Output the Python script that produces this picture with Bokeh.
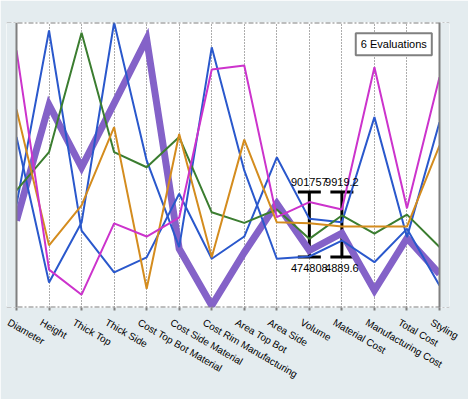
import math
from bokeh.plotting import figure
from bokeh.models import (Range1d, FixedTicker, Span, Label, LinearAxis,
                          BoxAnnotation, ColumnDataSource, Whisker, TeeHead)
from bokeh.embed import file_html
from bokeh.resources import INLINE
from bokeh.core.properties import value

# ---------------- data ----------------
axis_names = ["Diameter", "Height", "Thick Top", "Thick Side",
              "Cost Top Bot Material", "Cost Side Material",
              "Cost Rim Manufacturing", "Area Top Bot", "Area Side", "Volume",
              "Material Cost", "Manufacturing Cost", "Total Cost", "Styling"]

# normalised values (0 = bottom, 1 = top) of each evaluation on each axis
eval_purple = [0.305, 0.711, 0.492, 0.716, 0.942, 0.206, 0.007, 0.193,
               0.365, 0.200, 0.261, 0.060, 0.243, 0.118]
eval_blue_a = [0.361, 0.972, 0.270, 0.123, 0.176, 0.399, 0.171, 0.249,
               0.527, 0.311, 0.299, 0.668, 0.247, 0.650]
eval_blue_b = [0.598, 0.088, 0.298, 1.000, 0.516, 0.212, 0.913, 0.481,
               0.171, 0.179, 0.235, 0.159, 0.276, 0.077]
eval_green = [0.411, 0.545, 0.964, 0.545, 0.492, 0.598, 0.334, 0.297,
              0.344, 0.241, 0.323, 0.259, 0.326, 0.212]
eval_orange = [0.695, 0.218, 0.358, 0.633, 0.066, 0.609, 0.176, 0.589,
               0.299, 0.296, 0.284, 0.284, 0.284, 0.568]
eval_magenta = [0.902, 0.133, 0.045, 0.295, 0.249, 0.315, 0.835, 0.849,
                0.317, 0.370, 0.344, 0.843, 0.348, 0.808]

# range bars on Volume and Material Cost
bar_axes = [9, 10]
bar_upper = [0.405, 0.405]
bar_lower = [0.177, 0.177]
bar_top_text = ["901757", "9919.2"]
bar_bottom_text = ["474808", "4889.6"]

legend_text = "6 Evaluations"

BG = "#e4ecef"
GREY = "#808080"
FONT = "Liberation Sans"

n = len(axis_names)
xs = list(range(n))
last = n - 1
k = 423.0 / last          # pixels per axis spacing
PAD = 10.0 / k            # hidden padding each side of the drawn frame
SHIFT = 8.0 / k           # labels start a little left of their axis

# ---------------- figure ----------------
p = figure(width=468, height=399, output_backend="svg", toolbar_location=None,
           x_range=Range1d(-PAD, last + PAD), y_range=Range1d(0, 1),
           x_axis_location=None, y_axis_location=None,
           min_border_left=6, min_border_right=19, min_border_top=22,
           min_border_bottom=92)
p.background_fill_color = "white"
p.border_fill_color = BG
p.outline_line_color = None
p.ygrid.visible = False

p.xgrid.ticker = FixedTicker(ticks=xs)
p.xgrid.grid_line_color = "#5a5a5a"
p.xgrid.grid_line_dash = "1 2"
p.xgrid.grid_line_width = 1

# label axis on a range shifted by SHIFT, minor ticks land on the real axes
p.extra_x_ranges = {"lab": Range1d(-PAD + SHIFT, last + PAD + SHIFT)}
lab_axis = LinearAxis(x_range_name="lab",
                      ticker=FixedTicker(ticks=xs, minor_ticks=[i + SHIFT for i in xs]),
                      major_label_overrides={i: nm for i, nm in enumerate(axis_names)},
                      major_label_orientation=-math.pi / 6,
                      major_label_text_font=FONT,
                      major_label_text_font_size="10px",
                      major_label_text_color="black",
                      major_label_standoff=11,
                      axis_line_color=None,
                      major_tick_in=0, major_tick_out=0,
                      major_tick_line_color=None,
                      minor_tick_in=0, minor_tick_out=3,
                      minor_tick_line_color=GREY, minor_tick_line_width=2)
p.add_layout(lab_axis, "below")

# frame borders (top / bottom dash-dot)
p.add_layout(Span(location=1, dimension="width", line_color=GREY,
                  line_width=2, line_dash="5 2 2 2"))
p.add_layout(Span(location=0, dimension="width", line_color=GREY,
                  line_width=2, line_dash="5 2 2 2"))

# evaluation lines
p.line(xs, eval_purple, line_color="#8462c8", line_width=7, line_join="miter")
for vals, col in [(eval_blue_a, "#2a58cc"), (eval_blue_b, "#2a58cc"),
                  (eval_green, "#3b7d30"), (eval_orange, "#d48c1e"),
                  (eval_magenta, "#cc33cc")]:
    p.line(xs, vals, line_color=col, line_width=2)

# hide the padding strips outside the first / last axis
p.add_layout(BoxAnnotation(right=0, fill_color=BG, fill_alpha=1, line_color=None))
p.add_layout(BoxAnnotation(left=last, fill_color=BG, fill_alpha=1, line_color=None))

# solid left / right borders
p.add_layout(Span(location=0, dimension="height", line_color=GREY, line_width=2))
p.add_layout(Span(location=last, dimension="height", line_color=GREY, line_width=2))

# range bars
bsrc = ColumnDataSource(dict(x=bar_axes, upper=bar_upper, lower=bar_lower,
                             top=bar_top_text, bottom=bar_bottom_text))
p.add_layout(Whisker(source=bsrc, base="x", upper="upper", lower="lower",
                     dimension="height", line_color="black", line_width=3,
                     upper_head=TeeHead(size=23, line_color="black", line_width=3),
                     lower_head=TeeHead(size=23, line_color="black", line_width=3)))
p.text(x="x", y="upper", text="top", source=bsrc, text_align="center",
       text_baseline="bottom", y_offset=-6, text_font=value(FONT),
       text_font_size="11px", text_color="black")
p.text(x="x", y="lower", text="bottom", source=bsrc, text_align="center",
       text_baseline="top", y_offset=7, text_font=value(FONT),
       text_font_size="11px", text_color="black")

# legend box
p.add_layout(Label(x=11.595, y=0.9235, text=legend_text, text_align="center",
                   text_baseline="middle", text_font=FONT,
                   text_font_size="11px", text_color="black",
                   background_fill_color="white", border_line_color=GREY,
                   border_line_width=2, padding=5))

open("out.html", "w").write(file_html(p, INLINE))
